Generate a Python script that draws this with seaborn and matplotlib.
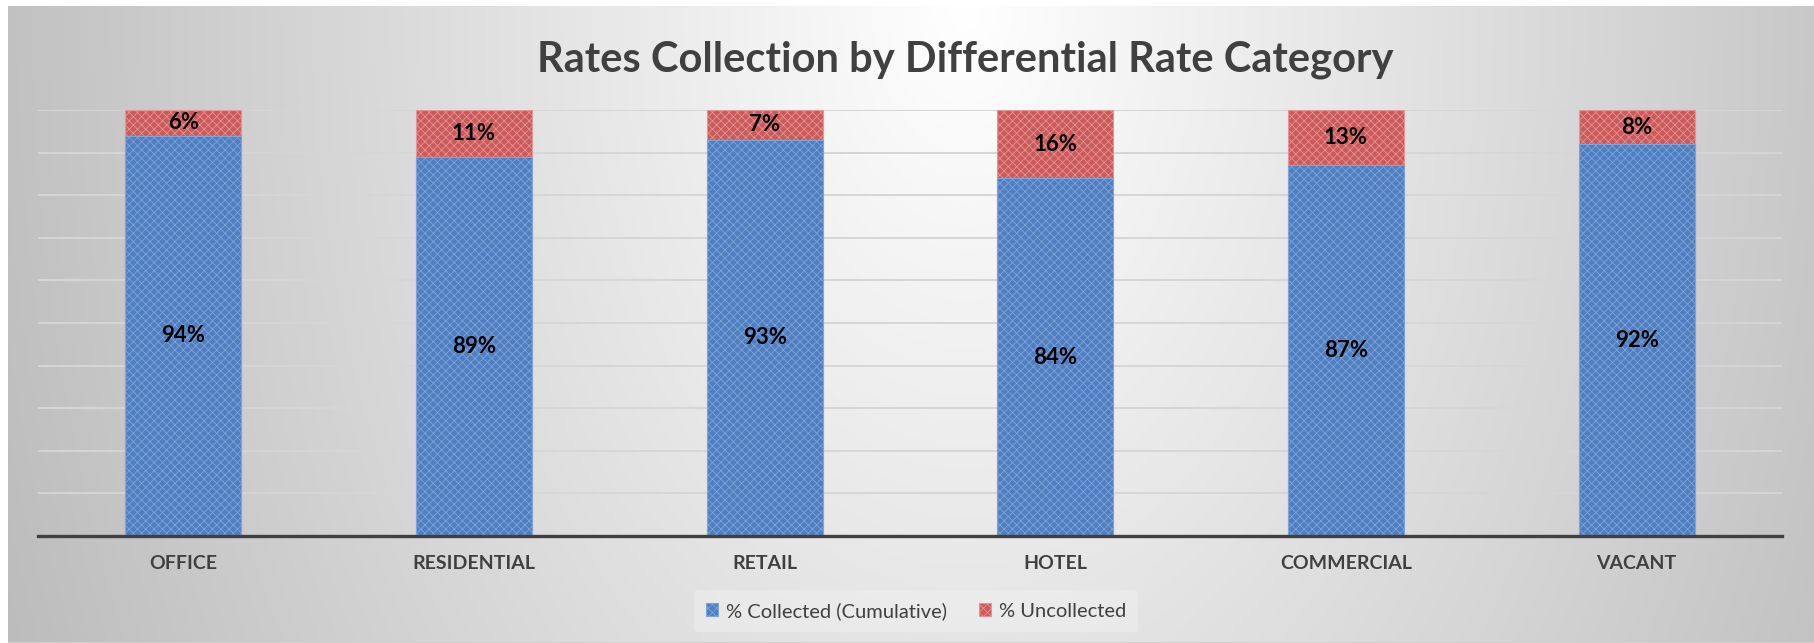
import numpy as np
import pandas as pd
import matplotlib
matplotlib.use("Agg")
import matplotlib.pyplot as plt
import seaborn as sns

# -- data --
categories = ["OFFICE", "RESIDENTIAL", "RETAIL", "HOTEL", "COMMERCIAL", "VACANT"]
collected = [94, 89, 93, 84, 87, 92]      # % Collected (Cumulative)
uncollected = [6, 11, 7, 16, 13, 8]       # % Uncollected

df = pd.DataFrame({
    "category": categories,
    "collected": np.array(collected) / 100,
    "uncollected": np.array(uncollected) / 100,
})
df["total"] = df["collected"] + df["uncollected"]

sns.set_theme(style="white")
plt.rcParams["font.family"] = ["Lato", "DejaVu Sans"]
plt.rcParams["hatch.linewidth"] = 0.6

BLUE, BLUE_H = "#4f7fc0", "#7fa4d8"
RED, RED_H = "#cc5a5a", "#e39494"
DARK = "#404040"

fig = plt.figure(figsize=(18.14, 6.43), dpi=100)
fig.patch.set_facecolor("white")

# -- gradient background (light centre near the top, grey towards the edges) --
bg = fig.add_axes([8 / 1814, 0, 1 - 8 / 1814, 1 - 6 / 643])
gx, gy = np.meshgrid(np.linspace(0, 1, 600), np.linspace(0, 1, 220))
dist = np.sqrt(((gx - 0.53) / 0.5) ** 2 + (0.45 * gy) ** 2)
shade = np.clip(255 - 58 * dist, 185, 255) / 255
bg.imshow(np.dstack([shade] * 3), aspect="auto", extent=[0, 1, 1, 0])
bg.axhline(1, color="#d0d0d0", lw=1.5)
bg.set_axis_off()

ax = fig.add_axes([38 / 1814, 1 - 536 / 643, (1782 - 38) / 1814, (536 - 110) / 643])
ax.set_facecolor("none")

# stacked bars: full height in red, collected in blue on top of it
sns.barplot(data=df, x="category", y="total", color=RED, width=0.4,
            saturation=1, ax=ax, label="% Uncollected")
sns.barplot(data=df, x="category", y="collected", color=BLUE, width=0.4,
            saturation=1, ax=ax, label="% Collected (Cumulative)")
if ax.get_legend() is not None:
    ax.get_legend().remove()

n = len(categories)
for i, p in enumerate(ax.patches):
    p.set_hatch("xxxx")
    p.set_linewidth(0.8)
    p.set_edgecolor(RED_H if i < n else BLUE_H)

red_bars, blue_bars = ax.containers[0], ax.containers[1]
ax.bar_label(blue_bars, labels=[f"{v}%" for v in collected], label_type="center",
             fontsize=16, fontweight="bold", color="black")
# uncollected labels sit in the middle of the red cap
for p, v, c in zip(red_bars, uncollected, collected):
    ax.text(p.get_x() + p.get_width() / 2, (c + 100) / 200, f"{v}%",
            ha="center", va="center", fontsize=16, fontweight="bold", color="black")

ax.set_xlim(-0.5, n - 0.5)
ax.set_ylim(0, 1.0)
ax.set_yticks(np.arange(0, 1.01, 0.1))
ax.yaxis.grid(True, color="#d6d6d6", lw=1.4)
ax.set_axisbelow(True)
ax.tick_params(axis="y", left=False, labelleft=False)
ax.tick_params(axis="x", length=0, pad=14)
for lab in ax.get_xticklabels():
    lab.set_fontsize(14)
    lab.set_fontweight("bold")
    lab.set_color(DARK)
ax.set_xlabel("")
ax.set_ylabel("")
for s in ["top", "right", "left"]:
    ax.spines[s].set_visible(False)
ax.spines["bottom"].set_color(DARK)
ax.spines["bottom"].set_linewidth(2.4)

fig.text(0.532, 1 - 60 / 643, "Rates Collection by Differential Rate Category",
         ha="center", va="center", fontsize=30, fontweight="bold", color=DARK)

handles, labels = ax.get_legend_handles_labels()
order = [1, 0]
leg = fig.legend([handles[i] for i in order], [labels[i] for i in order],
                 loc="center", bbox_to_anchor=(916 / 1814, 1 - 611 / 643), ncol=2,
                 fontsize=14.5, frameon=True, handlelength=0.6, handleheight=0.6,
                 handletextpad=0.4, columnspacing=1.6, borderpad=0.6)
leg.get_frame().set_facecolor("#f0f0f0")
leg.get_frame().set_edgecolor("none")
leg.get_frame().set_alpha(0.5)
for t in leg.get_texts():
    t.set_color(DARK)

fig.savefig("out.png", dpi=100)
